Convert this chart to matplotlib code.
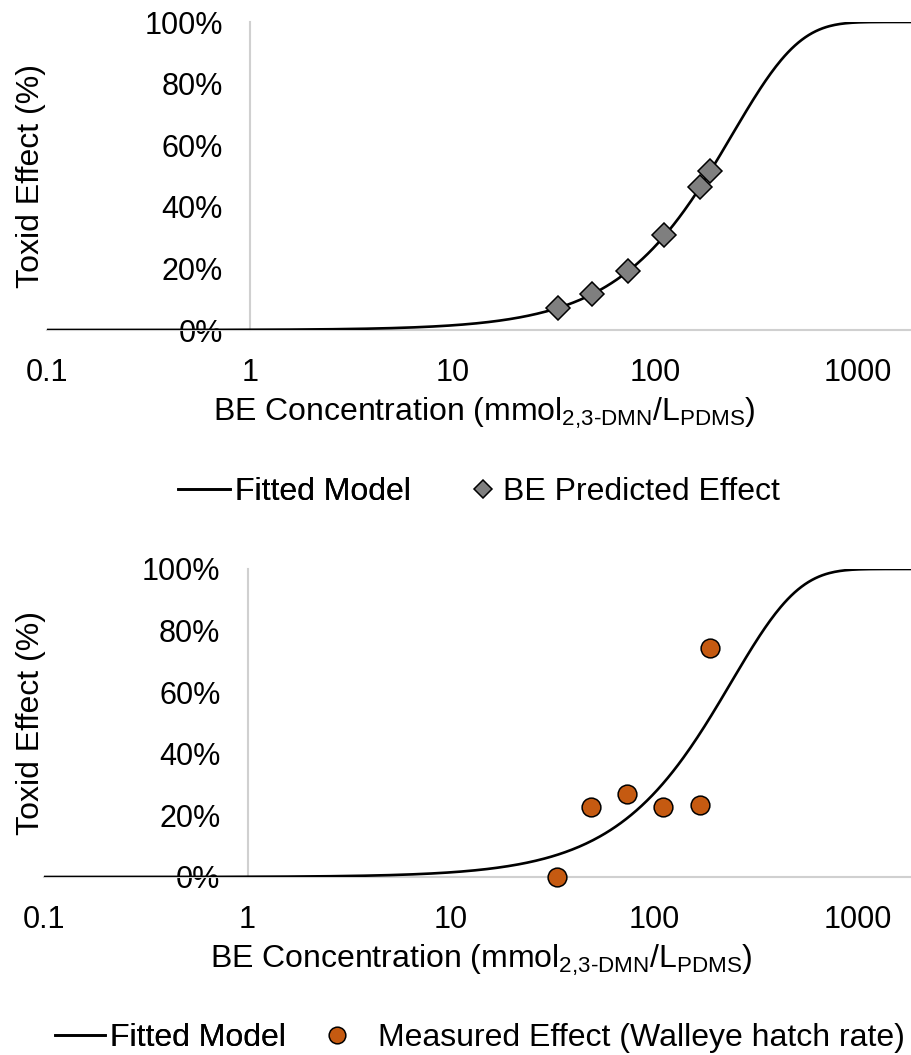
import numpy as np
import matplotlib
matplotlib.use("Agg")
import matplotlib.pyplot as plt
from matplotlib.lines import Line2D

plt.rcParams['font.family'] = ['Liberation Sans', 'DejaVu Sans']
plt.rcParams['font.size'] = 23
plt.rcParams['mathtext.fontset'] = 'custom'
plt.rcParams['mathtext.rm'] = 'Liberation Sans'
plt.rcParams['mathtext.it'] = 'Liberation Sans'
plt.rcParams['mathtext.default'] = 'regular'

# BE concentrations of the test levels (mmol 2,3-DMN / L PDMS)
conc = [33.0, 48.5, 73.5, 110.5, 166.5, 186.5]
predicted = [0.071, 0.117, 0.192, 0.308, 0.464, 0.516]
measured = [0.0, 0.227, 0.270, 0.227, 0.234, 0.744]

# fitted Weibull dose-response model: 1 - exp(-(c/scale)^shape)
fit_scale = 238.0
fit_shape = 1.318

xticks = [0.1, 1, 10, 100, 1000]
xticklabels = ['0.1', '1', '10', '100', '1000']
yticks = [0, 0.2, 0.4, 0.6, 0.8, 1.0]
yticklabels = ['0%', '20%', '40%', '60%', '80%', '100%']

XMIN, XMAX = 0.1, 1820
W, H = 911, 1055
AXIS_GRAY = '#d0d0d0'
TICK_FS = 22

xs = np.logspace(np.log10(XMIN), np.log10(XMAX), 500)
model = 1 - np.exp(-(xs / fit_scale) ** fit_shape)

fig = plt.figure(figsize=(W / 100, H / 100), dpi=100)


def make_panel(left_px, bottom_px):
    ax = fig.add_axes([left_px / W, 1 - bottom_px / H, (W - left_px) / W, 308 / H])
    ax.set_xscale('log')
    ax.set_xlim(XMIN, XMAX)
    ax.set_ylim(0, 1)
    ax.spines['top'].set_visible(False)
    ax.spines['right'].set_visible(False)
    ax.spines['left'].set_position(('data', 1))
    for s in ('left', 'bottom'):
        ax.spines[s].set_color(AXIS_GRAY)
        ax.spines[s].set_linewidth(1.5)
    ax.set_xticks(xticks)
    ax.set_xticklabels(xticklabels)
    ax.xaxis.set_minor_locator(matplotlib.ticker.NullLocator())
    ax.set_yticks(yticks)
    ax.set_yticklabels(yticklabels)
    ax.tick_params(axis='x', length=0, pad=20, labelsize=TICK_FS)
    ax.tick_params(axis='y', length=0, pad=19.5, labelsize=TICK_FS)
    ax.patch.set_visible(False)
    ax.plot(xs, model, color='black', lw=1.9, zorder=3)
    return ax


xlabel = r'BE Concentration (mmol$_{\text{2,3-DMN}}$/L$_{\text{PDMS}}$)'

# top: BE predicted effect on the fitted curve
ax1 = make_panel(47, 330)
ax1.plot(conc, predicted, ls='none', marker='D', ms=12, mfc='#7f7f7f',
         mec='black', mew=1.1, zorder=4, clip_on=False)
fig.text(31 / W, 1 - 176 / H, 'Toxid Effect (%)', rotation=90, ha='center', va='center')
fig.text(484 / W, 1 - 421 / H, xlabel, ha='center', va='baseline')

line_h = Line2D([], [], color='black', lw=1.9)
dia_h = Line2D([], [], ls='none', marker='D', ms=9, mfc='#7f7f7f', mec='black', mew=1.1)
leg = fig.legend(handles=[line_h], labels=['Fitted Model'], loc='center left',
                 bbox_to_anchor=(178 / W, 1 - 492 / H), frameon=False, borderpad=0,
                 borderaxespad=0, handlelength=1.63, handletextpad=0.16)
fig.add_artist(leg)
fig.legend(handles=[dia_h], labels=['BE Predicted Effect'], loc='center left',
           bbox_to_anchor=(472 / W, 1 - 492 / H), frameon=False, borderpad=0,
           borderaxespad=0, handlelength=0.7, handletextpad=0.28)

# bottom: measured walleye hatch-rate effect
ax2 = make_panel(44, 877)
ax2.plot(conc, measured, ls='none', marker='o', ms=13.5, mfc='#c55a11',
         mec='black', mew=1.1, zorder=4, clip_on=False)
fig.text(31 / W, 1 - 723 / H, 'Toxid Effect (%)', rotation=90, ha='center', va='center')
fig.text(481 / W, 1 - 968 / H, xlabel, ha='center', va='baseline')

dot_h = Line2D([], [], ls='none', marker='o', ms=12, mfc='#c55a11', mec='black', mew=1.1)
leg2 = fig.legend(handles=[line_h], labels=['Fitted Model'], loc='center left',
                  bbox_to_anchor=(55 / W, 1 - 1038 / H), frameon=False, borderpad=0,
                  borderaxespad=0, handlelength=1.57, handletextpad=0.16)
fig.add_artist(leg2)
fig.legend(handles=[dot_h], labels=['Measured Effect (Walleye hatch rate)'], loc='center left',
           bbox_to_anchor=(326 / W, 1 - 1038 / H), frameon=False, borderpad=0,
           borderaxespad=0, handlelength=0.7, handletextpad=0.93)

fig.savefig('out.png', dpi=100)
